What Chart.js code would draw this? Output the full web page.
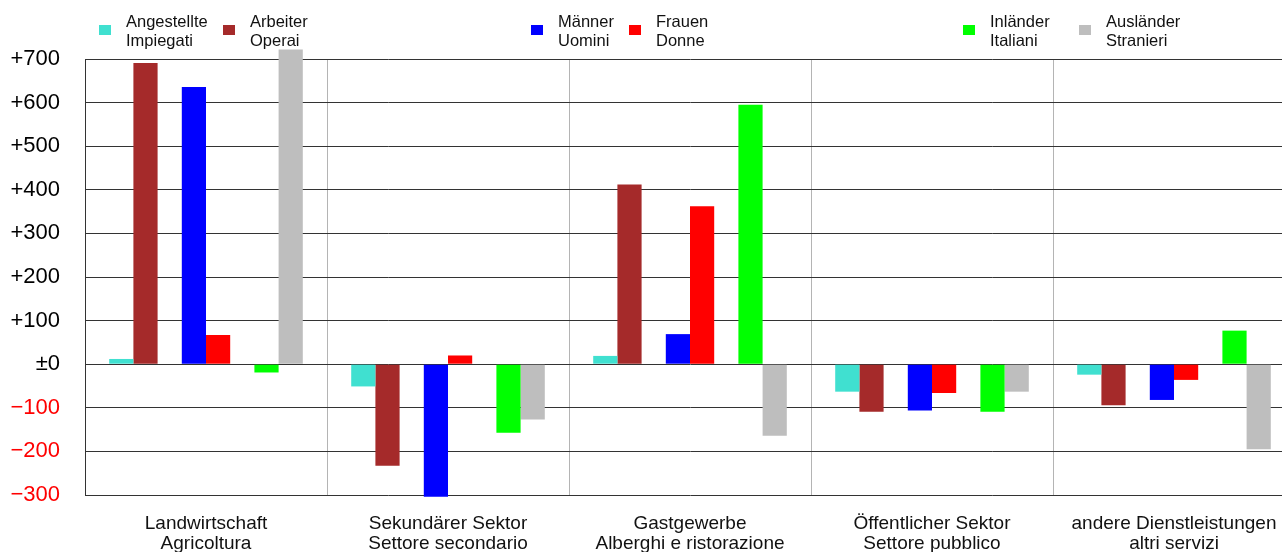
<!DOCTYPE html>
<html>
<head>
<meta charset="utf-8">
<script src="https://cdn.jsdelivr.net/npm/chart.js@4"></script>
<style>
  html, body { margin: 0; padding: 0; overflow: hidden; background: #fff; }
  #wrap { position: absolute; left: 0; top: 0; width: 1296px; height: 552px; }
</style>
</head>
<body>
<div id="wrap"><canvas id="c" width="1296" height="552"></canvas></div>
<script>
// Sectors (German / Italian)
const categoriesDe = ['Landwirtschaft', 'Sekundärer Sektor', 'Gastgewerbe', 'Öffentlicher Sektor', 'andere Dienstleistungen'];
const categoriesIt = ['Agricoltura', 'Settore secondario', 'Alberghi e ristorazione', 'Settore pubblico', 'altri servizi'];

// Change in employees per sector
const angestellte = [12, -51, 19, -63, -24];
const arbeiter    = [691, -233, 412, -109, -94];
const maenner     = [636, -304, 69, -106, -82];
const frauen      = [67, 20, 362, -66, -36];
const inlaender   = [-19, -157, 595, -109, 77];
const auslaender  = [722, -127, -164, -63, -195];

// Y axis ticks
const yTicks = [-300, -200, -100, 0, 100, 200, 300, 400, 500, 600, 700];

const labels = categoriesDe.map((d, i) => [d, categoriesIt[i]]);

function series(de, it, data, color) {
  return { label: [de, it], data: data, backgroundColor: color, clip: false, inLegend: true };
}
function spacer() {
  return { label: '', data: categoriesDe.map(() => null), backgroundColor: 'rgba(0,0,0,0)', inLegend: false };
}

const datasets = [
  series('Angestellte', 'Impiegati', angestellte, '#40E0D0'),
  series('Arbeiter', 'Operai', arbeiter, '#A52A2A'),
  spacer(),
  series('Männer', 'Uomini', maenner, '#0000FF'),
  series('Frauen', 'Donne', frauen, '#FF0000'),
  spacer(),
  series('Inländer', 'Italiani', inlaender, '#00FF00'),
  series('Ausländer', 'Stranieri', auslaender, '#BEBEBE')
];

// Two-line legend drawn above the plot
const pairLegend = {
  id: 'pairLegend',
  afterDraw(chart, args, opts) {
    const ctx = chart.ctx;
    const items = chart.data.datasets.filter(d => d.inLegend);
    ctx.save();
    ctx.font = opts.font;
    ctx.textAlign = 'left';
    ctx.textBaseline = 'alphabetic';
    items.forEach((ds, i) => {
      const x = opts.x[i];
      ctx.fillStyle = ds.backgroundColor;
      ctx.fillRect(x, opts.boxTop, opts.boxW, opts.boxH);
      ctx.fillStyle = '#111';
      ctx.fillText(ds.label[0], x + opts.textGap, opts.line1);
      ctx.fillText(ds.label[1], x + opts.textGap, opts.line2);
    });
    ctx.restore();
  }
};

new Chart(document.getElementById('c'), {
  type: 'bar',
  data: { labels: labels, datasets: datasets },
  plugins: [pairLegend],
  options: {
    responsive: false,
    animation: false,
    events: [],
    layout: { padding: { top: 59, right: 1, bottom: 0, left: 0 } },
    datasets: { bar: { categoryPercentage: 0.8, barPercentage: 1.0, borderWidth: 0 } },
    plugins: {
      legend: { display: false },
      tooltip: { enabled: false },
      pairLegend: {
        x: [99, 223, 531, 629, 963, 1079],
        boxTop: 25, boxW: 12, boxH: 10, textGap: 27,
        line1: 27, line2: 45.5,
        font: '16.5px "Liberation Sans", Arial, sans-serif'
      }
    },
    scales: {
      x: {
        grid: {
          display: true,
          offset: true,
          drawTicks: false,
          color: ctx => ctx.index === 0 ? 'rgba(0,0,0,0)' : '#B4B4B4',
          lineWidth: 1
        },
        border: { display: false },
        ticks: {
          color: '#111',
          padding: 18,
          maxRotation: 0,
          autoSkip: false,
          font: { family: '"Liberation Sans", Arial, sans-serif', size: 19, lineHeight: 1.09 }
        },
        afterFit(scale) { scale.height = 57; }
      },
      y: {
        min: -300,
        max: 700,
        afterBuildTicks(scale) { scale.ticks = yTicks.map(v => ({ value: v })); },
        grid: { color: '#333', lineWidth: 1, drawTicks: false },
        border: { display: true, color: '#333', width: 1 },
        ticks: {
          padding: 25,
          color: ctx => ctx.tick.value < 0 ? '#FF0000' : '#000',
          font: { family: '"Liberation Sans", Arial, sans-serif', size: 22 },
          callback: v => v > 0 ? '+' + v : (v === 0 ? '±0' : '\u2212' + Math.abs(v))
        },
        afterFit(scale) { scale.width = 85; }
      }
    }
  }
});
</script>
</body>
</html>
